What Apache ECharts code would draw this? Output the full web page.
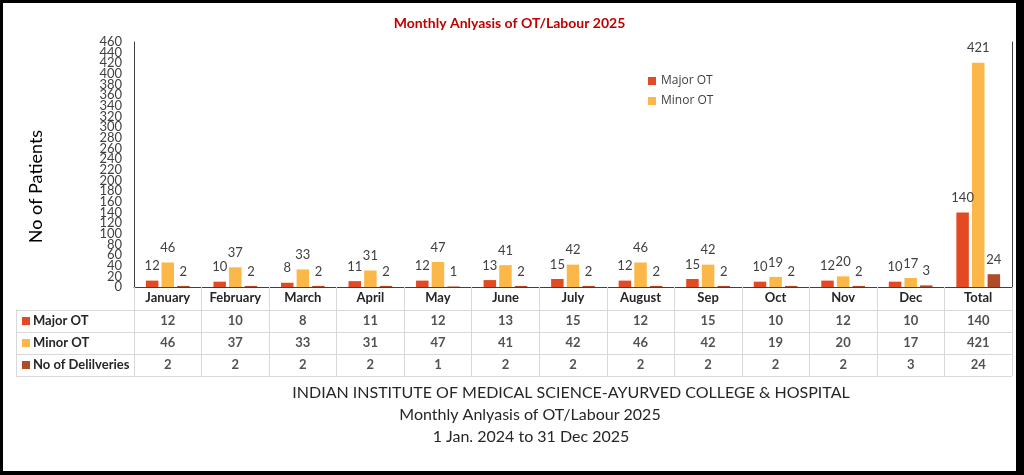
<!DOCTYPE html>
<html><head><meta charset="utf-8">
<script src="https://cdn.jsdelivr.net/npm/echarts@6/dist/echarts.min.js"></script>
<style>
html,body{margin:0;padding:0;background:#000;width:1024px;height:475px;overflow:hidden}
#c{position:absolute;left:3px;top:3px;width:1013px;height:468px;background:#fff}
</style></head><body><div id="c"></div>
<script>
const categories = ['January','February','March','April','May','June','July','August','Sep','Oct','Nov','Dec','Total'];
const majorOT = [12,10,8,11,12,13,15,12,15,10,12,10,140];
const minorOT = [46,37,33,31,47,41,42,46,42,19,20,17,421];
const deliveries = [2,2,2,2,1,2,2,2,2,2,2,3,24];
const seriesNames = ['Major OT','Minor OT','No of Delilveries'];
const yTickLabels = ['0','20','40','60','80','100','120','140','160','180','200','220','240','260','280','300','320','340','360','380','400','420','440','460'];
const yMin = 0, yMax = 460, yStep = 20;
const titleText = 'Monthly Anlyasis of OT/Labour 2025';
const footerLines = ['INDIAN INSTITUTE OF MEDICAL SCIENCE-AYURVED COLLEGE & HOSPITAL','Monthly Anlyasis of OT/Labour 2025','1 Jan. 2024 to 31 Dec 2025'];

const colors = ['#e34a24','#fbb848','#b04a28'];
const rows = [majorOT, minorOT, deliveries];
const tableData = [];
rows.forEach((arr, r) => arr.forEach((v, i) => tableData.push([i, r, v])));

const F = 'Lato, "Open Sans", sans-serif';
const gridLine = '#d9d9d9';
const dark = '#404040';

const chart = echarts.init(document.getElementById('c'));
const rich = {t:{fontFamily:F,fontWeight:'bold',fontSize:13,color:'#262626',padding:[0,0,0,3]}};
colors.forEach((c,i)=>{rich['s'+i]={width:8,height:8,backgroundColor:c};});

const barLabel = {show:true, position:'top', distance:8, color:dark, fontSize:13, fontFamily:F};

chart.setOption({
  animation:false,
  color: colors,
  title:[
    {text:titleText, left:'center', top:8, textStyle:{color:'#c00000', fontSize:14, fontWeight:'bold', fontFamily:F}},
    {text:footerLines[0], left:563, top:377, textAlign:'center', textStyle:{color:'#262626', fontSize:16, fontWeight:'normal', fontFamily:F}},
    {text:footerLines[1], left:522, top:399, textAlign:'center', textStyle:{color:'#262626', fontSize:16, fontWeight:'normal', fontFamily:F}},
    {text:footerLines[2], left:523, top:421, textAlign:'center', textStyle:{color:'#262626', fontSize:16, fontWeight:'normal', fontFamily:F}}
  ],
  legend:{data:[seriesNames[0],seriesNames[1]], orient:'vertical', left:640, top:67, itemWidth:8, itemHeight:8, itemGap:8,
    icon:'rect', textStyle:{color:dark, fontSize:12, fontFamily:'"Open Sans", sans-serif'}},
  grid:[
    {left:131, top:39, width:878, height:245},
    {left:131, top:307, width:878, height:66}
  ],
  xAxis:[
    {type:'category', gridIndex:0, position:'bottom', data:categories, axisLabel:{show:false}, axisTick:{show:false},
      axisLine:{lineStyle:{color:gridLine}}},
    {type:'category', gridIndex:0, position:'top', data:categories, axisLabel:{show:false}, axisTick:{show:false},
      axisLine:{show:true, lineStyle:{color:dark}}},
    {type:'category', gridIndex:1, position:'top', data:categories,
      axisLabel:{interval:0, margin:6, fontFamily:F, fontWeight:'bold', fontSize:13, color:'#262626'},
      axisTick:{show:true, interval:0, length:23, lineStyle:{color:gridLine}},
      axisLine:{show:true, lineStyle:{color:gridLine}},
      splitLine:{show:true, interval:0, lineStyle:{color:gridLine}}}
  ],
  yAxis:[
    {type:'value', gridIndex:0, position:'left', min:yMin, max:yMax, interval:yStep,
      name:'No of Patients', nameLocation:'middle', nameGap:89, nameRotate:90,
      nameTextStyle:{color:'#000', fontSize:18, fontFamily:F, padding:[0,44,0,0]},
      axisLine:{show:true, lineStyle:{color:dark}}, axisTick:{show:false}, splitLine:{show:false},
      axisLabel:{show:false}},
    {type:'value', gridIndex:0, position:'right', min:yMin, max:yMax, interval:yStep,
      axisLine:{show:true, lineStyle:{color:dark}}, axisTick:{show:false}, splitLine:{show:false}, axisLabel:{show:false}},
    {type:'category', gridIndex:1, position:'left', inverse:true, data:seriesNames,
      axisLine:{show:true, lineStyle:{color:gridLine}},
      axisTick:{show:true, interval:0, length:118, lineStyle:{color:gridLine}},
      splitLine:{show:true, interval:0, lineStyle:{color:gridLine}},
      axisLabel:{interval:0, align:'left', margin:112, formatter:(v,i)=>'{s'+i+'|}{t|'+v+'}', rich:rich}},
    {type:'category', gridIndex:1, position:'left', inverse:true, data:seriesNames, offset:118,
      axisLine:{show:true, lineStyle:{color:gridLine}}, axisTick:{show:false}, axisLabel:{show:false}},
    {type:'category', gridIndex:0, position:'left', data:yTickLabels, boundaryGap:false,
      axisLine:{show:false}, axisTick:{show:false}, splitLine:{show:false},
      axisLabel:{interval:0, margin:12, color:dark, fontSize:13, fontFamily:F}}
  ],
  series:[
    {name:seriesNames[0], type:'bar', xAxisIndex:0, yAxisIndex:0, data:majorOT, barWidth:12.5, barGap:'25%', label:barLabel},
    {name:seriesNames[1], type:'bar', xAxisIndex:0, yAxisIndex:0, data:minorOT, barWidth:12.5, barGap:'25%', label:barLabel},
    {name:seriesNames[2], type:'bar', xAxisIndex:0, yAxisIndex:0, data:deliveries, barWidth:12.5, barGap:'25%', label:barLabel},
    {name:'table', type:'scatter', xAxisIndex:2, yAxisIndex:2, data:tableData, symbolSize:1,
      itemStyle:{color:'rgba(0,0,0,0)'}, silent:true,
      label:{show:true, position:'inside', formatter:p=>String(p.value[2]), fontFamily:F, fontWeight:'bold', fontSize:13, color:'#262626'}}
  ]
});
</script></body></html>
